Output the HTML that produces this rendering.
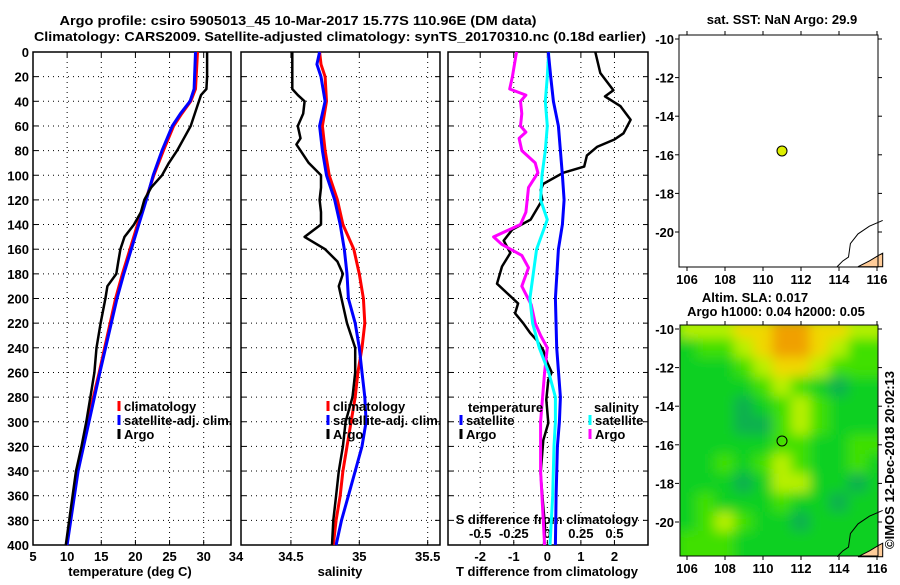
<!DOCTYPE html>
<html><head><meta charset="utf-8"><style>
html,body{margin:0;padding:0;background:#fff;}
svg text{font-family:"Liberation Sans",sans-serif;font-weight:bold;font-size:13px;fill:#000;}
</style></head><body>
<svg id="c" width="900" height="580" xmlns="http://www.w3.org/2000/svg">
<defs>
<filter id="blur" x="-10%" y="-10%" width="120%" height="120%"><feGaussianBlur stdDeviation="6"/></filter>
<clipPath id="mapclip"><rect x="680" y="325" width="198" height="231"/></clipPath>
</defs>
<text x="298" y="25" text-anchor="middle" font-size="14" textLength="477" lengthAdjust="spacingAndGlyphs">Argo profile: csiro 5905013_45 10-Mar-2017 15.77S 110.96E (DM data)</text>
<text x="340" y="41" text-anchor="middle" font-size="14" textLength="612" lengthAdjust="spacingAndGlyphs">Climatology: CARS2009. Satellite-adjusted climatology: synTS_20170310.nc (0.18d earlier)</text>
</svg>
<script>
// ===== data =====
const depthTicks=[0,20,40,60,80,100,120,140,160,180,200,220,240,260,280,300,320,340,360,380,400];
const tempTicks=[5,10,15,20,25,30,34];
const salTicks=[34.5,35,35.5];
const salTickLabels=["34.5","35","35.5"];
const tdiffTicks=[-2,-1,0,1,2];
const sdiffTicks=[-0.5,-0.25,0,0.25,0.5];
const sdiffTickLabels=["-0.5","-0.25","0","0.25","0.5"];
const lonTicks=[106,108,110,112,114,116];
const latTicks=[-10,-12,-14,-16,-18,-20];

const climDepth=[0,30,40,50,60,80,100,120,140,160,180,200,260,300,340,400];
const climTemp=[29.1,28.8,28.1,26.8,25.6,24.1,22.7,21.5,20.3,19.2,18.1,17.1,14.7,13.0,11.4,9.9];
const satTemp=[28.8,28.6,28.0,26.6,25.4,23.9,22.6,21.6,20.5,19.4,18.3,17.3,14.8,13.2,11.6,10.0];
const argoTDepth=[0,10,20,30,35,40,50,60,70,80,90,100,110,120,130,140,150,160,170,180,190,200,220,240,260,280,300,320,340,360,380,400];
const argoTemp=[30.5,30.5,30.5,30.4,29.6,29.3,28.7,28.1,27.1,26.1,24.9,23.9,22.3,21.3,20.8,19.8,18.4,17.8,17.5,17.2,15.9,15.6,14.9,14.3,14.0,13.4,12.8,12.1,11.3,10.8,10.3,9.8];

const salDepth=[0,10,20,40,60,80,100,120,140,160,180,200,220,240,260,280,300,320,340,360,380,400];
const climSal=[34.71,34.72,34.75,34.76,34.73,34.75,34.78,34.84,34.88,34.96,35.0,35.03,35.04,35.02,34.99,34.97,34.94,34.91,34.88,34.86,34.83,34.81];
const satSal=[34.71,34.69,34.72,34.75,34.71,34.73,34.76,34.82,34.86,34.89,34.91,34.92,34.97,35.0,35.02,35.04,35.05,35.02,34.97,34.92,34.87,34.83];
const argoSDepth=[0,10,20,30,35,40,50,60,70,75,80,90,100,110,120,130,140,150,160,170,180,190,200,220,240,260,280,300,320,340,360,380,400];
const argoSal=[34.51,34.51,34.51,34.51,34.55,34.60,34.59,34.55,34.57,34.54,34.57,34.63,34.72,34.72,34.71,34.72,34.72,34.60,34.75,34.84,34.88,34.85,34.87,34.91,34.97,34.97,34.95,34.90,34.88,34.85,34.83,34.81,34.80];

const satTDDepth=[0,20,40,60,80,100,120,140,160,200,240,280,300,320,360,400];
const satTDiff=[0.03,0.1,0.18,0.33,0.39,0.45,0.5,0.45,0.33,0.24,0.28,0.39,0.36,0.3,0.26,0.24];
const argoTDDepth=[0,17,31,36,44,55,66,71,77,84,93,98,107,112,120,136,144,153,163,174,188,204,212,220,228,234,242,252,260,266,282,301,315,342,369,385,400];
const argoTDiff=[1.43,1.58,1.97,1.72,2.18,2.48,2.27,2.0,1.48,1.18,1.1,0.47,-0.12,-0.2,-0.15,-0.5,-1.04,-1.3,-1.1,-1.35,-1.5,-0.87,-0.96,-0.72,-0.51,-0.31,-0.12,0,0.13,0.03,-0.03,0.03,-0.12,-0.2,-0.12,-0.07,-0.1];
const satSDDepth=[0,20,40,60,80,100,120,136,160,200,220,240,260,280,300,320,360,400];
const satSDiff=[0.01,0,-0.015,0,-0.015,-0.04,-0.05,0,-0.08,-0.13,-0.11,-0.06,0.01,0.06,0.06,0.05,0.04,0.02];
const argoSDDepth=[0,20,30,35,40,50,60,65,70,80,90,98,110,130,140,150,156,165,175,190,205,220,230,240,260,300,340,400];
const argoSDiff=[-0.23,-0.26,-0.28,-0.16,-0.2,-0.19,-0.2,-0.16,-0.21,-0.19,-0.09,-0.07,-0.14,-0.16,-0.2,-0.4,-0.34,-0.19,-0.14,-0.19,-0.12,-0.09,-0.05,0,-0.02,-0.05,-0.05,-0.02];

const floatLon=111.0, floatLat=-15.8;
const slaLevels=[
[3,3,3,4,4,5,5,4,4,3,3],
[1,2,2,3,4,5,5,4,3,2,2],
[1,1,1,2,3,4,4,3,2,2,2],
[1,1,1,1,2,3,2,1,0,1,1],
[1,1,1,0,1,2,3,2,1,1,1],
[1,1,1,0,0,2,3,2,1,1,1],
[1,1,1,1,1,2,2,1,1,2,2],
[1,1,2,1,2,3,2,1,1,2,1],
[1,1,1,0,1,3,3,1,1,0,1],
[1,2,1,1,1,2,1,1,0,1,1],
[1,2,3,2,1,1,0,1,1,1,1],
[2,2,2,1,1,1,1,1,1,1,1],
[2,2,2,1,1,1,1,1,1,1,1]];
const slaColors=["#10b050","#10d020","#40e000","#b8f000","#f0d800","#f0a000"];

// ===== drawing =====
const S=document.getElementById('c');
const NS='http://www.w3.org/2000/svg';
function mk(tag,attrs,parent){const e=document.createElementNS(NS,tag);for(const k in attrs)e.setAttribute(k,attrs[k]);(parent||S).appendChild(e);return e;}
function txt(x,y,s,anchor,parent){const t=mk('text',{x:x,y:y,'text-anchor':anchor||'middle'},parent);t.textContent=s;return t;}

const TOP=52,BOT=545;
const yD=d=>TOP+(d/400)*(BOT-TOP);
const panels=[
 {name:'temperature-panel',x0:33,x1:231,min:5,max:34},
 {name:'salinity-panel',x0:241,x1:440,min:34.135,max:35.59},
 {name:'tdiff-panel',x0:448,x1:648,min:-2.96,max:3.0}
];
function xf(p){return v=>p.x0+(v-p.min)/(p.max-p.min)*(p.x1-p.x0);}
const xT=xf(panels[0]), xS=xf(panels[1]), xTD=xf(panels[2]);
const xSD=v=>xTD(v*4);

function grid(p,xs,xfn){
  const g=mk('g',{});
  
  
  depthTicks.forEach(d=>{
    if(d>0&&d<400) mk('line',{x1:p.x0,x2:p.x1,y1:yD(d),y2:yD(d),stroke:'#000','stroke-width':1,'stroke-dasharray':'1,4'},g);
    mk('line',{x1:p.x0,x2:p.x0+5,y1:yD(d),y2:yD(d),stroke:'#000'},g);
    mk('line',{x1:p.x1,x2:p.x1-5,y1:yD(d),y2:yD(d),stroke:'#000'},g);
  });
  xs.forEach(v=>{const x=xfn(v); if(x>p.x0+1&&x<p.x1-1){
    mk('line',{x1:x,x2:x,y1:TOP,y2:BOT,stroke:'#000','stroke-width':1,'stroke-dasharray':'1,4'},g);
    mk('line',{x1:x,x2:x,y1:BOT,y2:BOT-5,stroke:'#000'},g);
    mk('line',{x1:x,x2:x,y1:TOP,y2:TOP+5,stroke:'#000'},g);}});
  const r=mk('rect',{x:p.x0,y:TOP,width:p.x1-p.x0,height:BOT-TOP,fill:'none',stroke:'#000','stroke-width':1.5});
  
  
}
grid(panels[0],tempTicks,xT);
grid(panels[1],salTicks,xS);
grid(panels[2],tdiffTicks,xTD);

const ya=mk('g',{});


depthTicks.forEach(d=>txt(29,yD(d)+5,String(d),'end',ya));
const xa1=mk('g',{});


tempTicks.forEach(v=>txt(xT(v)+(v==34?5:0),561,String(v),'middle',xa1));
const xa2=mk('g',{});


salTicks.forEach((v,i)=>txt(xS(v),561,salTickLabels[i],'middle',xa2));
const xa3=mk('g',{});


tdiffTicks.forEach(v=>txt(xTD(v),561,String(v),'middle',xa3));
const xa4=mk('g',{});


sdiffTicks.forEach((v,i)=>txt(xSD(v),538,sdiffTickLabels[i],'middle',xa4));
let t;
t=txt(130,576,'temperature (deg C)');
t=txt(340,576,'salinity');
t=txt(547,576,'T difference from climatology');
t=txt(547,524,'S difference from climatology');

function line(ds,vs,fx,color,w,name){
  const pts=ds.map((d,i)=>fx(vs[i]).toFixed(1)+','+yD(d).toFixed(1)).join(' ');
  const l=mk('polyline',{points:pts,fill:'none',stroke:color,'stroke-width':w,'stroke-linejoin':'round'});
  
  
}
line(climDepth,climTemp,xT,'#ff0000',3,'climatology-temperature-line');
line(climDepth,satTemp,xT,'#0000ff',3,'satellite-temperature-line');
line(argoTDepth,argoTemp,xT,'#000',2.5,'argo-temperature-line');
line(salDepth,climSal,xS,'#ff0000',3,'climatology-salinity-line');
line(salDepth,satSal,xS,'#0000ff',3,'satellite-salinity-line');
line(argoSDepth,argoSal,xS,'#000',2.5,'argo-salinity-line');
line(argoTDDepth,argoTDiff,xTD,'#000',2.5,'argo-tdiff-line');
line(argoSDDepth,argoSDiff,xSD,'#ff00ff',3,'argo-sdiff-line');
line(satSDDepth,satSDiff,xSD,'#00ffff',3,'satellite-sdiff-line');
line(satTDDepth,satTDiff,xTD,'#0000ff',3,'satellite-tdiff-line');

function legend(x,y,color,label,name){
  const g=mk('g',{});
  
  
  mk('line',{x1:x,x2:x,y1:y-10,y2:y,stroke:color,'stroke-width':3},g);
  txt(x+5,y,label,'start',g);
}
legend(119,411,'#ff0000','climatology','legend-climatology-temp');
legend(119,425,'#0000ff','satellite-adj. clim.','legend-satellite-temp');
legend(119,439,'#000','Argo','legend-argo-temp');
legend(328,411,'#ff0000','climatology','legend-climatology-sal');
legend(328,425,'#0000ff','satellite-adj. clim.','legend-satellite-sal');
legend(328,439,'#000','Argo','legend-argo-sal');
t=txt(468,412,'temperature','start');
t=txt(594,412,'salinity','start');
legend(461,425,'#0000ff','satellite','legend-satellite-tdiff');
legend(461,439,'#000','Argo','legend-argo-tdiff');
legend(590,425,'#00ffff','satellite','legend-satellite-sdiff');
legend(590,439,'#ff00ff','Argo','legend-argo-sdiff');

// ===== maps =====
function mapAxes(name,y0,y1,latTop){
  const X0=679,X1=878;
  const lx=v=>687+(v-106)*19;
  const ly=v=>latTop+(-10-v)*19.3;
  const g=mk('g',{});
  
  
  lonTicks.forEach(v=>{mk('line',{x1:lx(v),x2:lx(v),y1:y0,y2:y0-4,stroke:'#000'},g);mk('line',{x1:lx(v),x2:lx(v),y1:y1,y2:y1+4,stroke:'#000'},g);txt(lx(v),y1+17,String(v),'middle',g);});
  latTicks.forEach(v=>{mk('line',{x1:X0,x2:X0-4,y1:ly(v),y2:ly(v),stroke:'#000'},g);mk('line',{x1:X1,x2:X1+4,y1:ly(v),y2:ly(v),stroke:'#000'},g);txt(X0-5,ly(v)+5,String(v),'end',g);});
  return {lx,ly,X0,X1};
}
let m1=mapAxes('sst-map',35,267,39);
function land(m,name){
  const g=mk('g',{});
  
  
  const pts=[[115,-21.8],[115.6,-21.5],[116.1,-21.2],[116.3,-21.1],[116.3,-21.8]].map(p=>m.lx(p[0])+','+m.ly(p[1])).join(' ');
  mk('polygon',{points:pts,fill:'#ffcc99',stroke:'#000','stroke-width':1},g);
  const c=[[113.9,-21.8],[114.2,-21.5],[114.5,-21.3],[114.6,-20.6],[115,-20.1],[115.6,-19.7],[116.3,-19.4]].map(p=>m.lx(p[0])+','+m.ly(p[1])).join(' ');
  mk('polyline',{points:c,fill:'none',stroke:'#000','stroke-width':1},g);
}
land(m1,'sst-map-coast');
let r1=mk('rect',{x:679,y:35,width:199,height:232,fill:'none',stroke:'#000','stroke-width':1});


let c1=mk('circle',{cx:m1.lx(floatLon),cy:m1.ly(floatLat),r:5,fill:'#ddee00',stroke:'#000','stroke-width':1});


t=txt(782,24,'sat. SST: NaN Argo: 29.9');

let m2=mapAxes('sla-map',325,556,329);
const hg=mk('g',{'clip-path':'url(#mapclip)'});


mk('rect',{x:680,y:325,width:198,height:231,fill:'#10d020'},hg);
const hb=mk('g',{filter:'url(#blur)'},hg);
slaLevels.forEach((row,i)=>row.forEach((lv,j)=>{
  const cell=mk('rect',{x:m2.lx(105.5+j)-0.5,y:m2.ly(-9.5-i)-0.5,width:20,height:20.3,fill:slaColors[lv]},hb);
  
  
}));
land(m2,'sla-map-coast');
let r2=mk('rect',{x:680,y:325,width:198,height:231,fill:'none',stroke:'#000','stroke-width':1});


let c2=mk('circle',{cx:m2.lx(floatLon),cy:m2.ly(floatLat),r:5,fill:'none',stroke:'#000','stroke-width':1});


t=txt(755,302,'Altim. SLA: 0.017');
t=txt(776,316,'Argo h1000: 0.04 h2000: 0.05');
t=txt(0,0,'©IMOS 12-Dec-2018 20:02:13');
t.setAttribute('transform','translate(894,460) rotate(-90)');
t.setAttribute('font-weight','normal');


</script>
</body></html>
